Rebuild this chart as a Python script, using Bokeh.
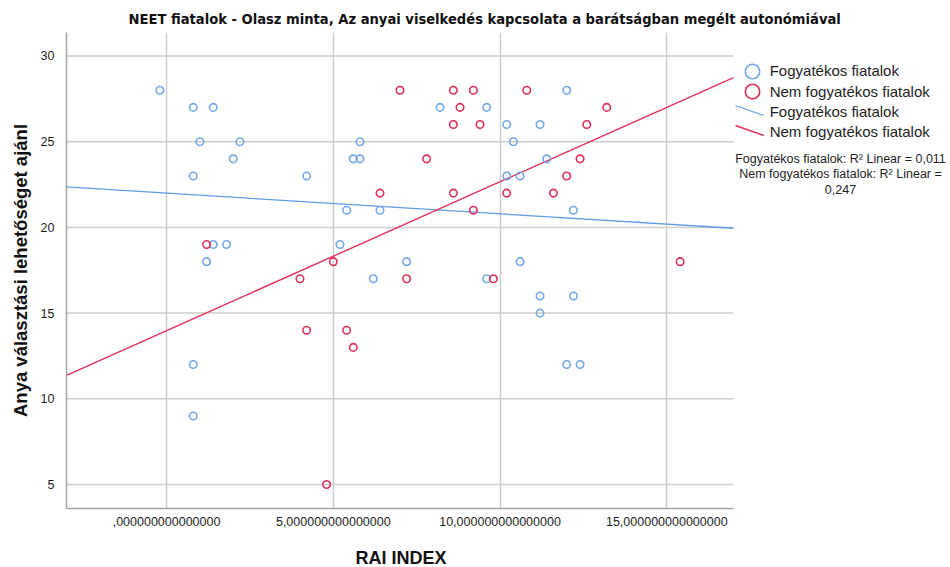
from bokeh.plotting import figure
from bokeh.models import Range1d, FixedTicker, Label, Legend, LegendItem, Arrow, Title
from bokeh.embed import file_html
from bokeh.resources import INLINE

# ---------------- data ----------------
title_text = "NEET fiatalok - Olasz minta, Az anyai viselkedés kapcsolata a barátságban megélt autonómiával"
x_title = "RAI INDEX"
y_title = "Anya választási lehetőséget ajánl"
series_names = ["Fogyatékos fiatalok", "Nem fogyatékos fiatalok"]
r2_lines = ["Fogyatékos fiatalok: R² Linear = 0,011",
            "Nem fogyatékos fiatalok: R² Linear =",
            "0,247"]

x_ticks = [0, 5, 10, 15]
x_tick_labels = [",000000000000000", "5,000000000000000",
                 "10,000000000000000", "15,000000000000000"]
y_ticks = [5, 10, 15, 20, 25, 30]

# Fogyatékos fiatalok
dis_x = [-0.2, 0.8, 1.4, 1.0, 2.2, 2.0, 0.8, 4.2, 5.8, 5.6, 5.8, 5.4, 6.4,
         1.4, 1.8, 1.2, 5.2, 7.2, 6.2, 0.8, 0.8, 12.0, 8.2, 9.6, 10.2, 11.2,
         10.4, 11.4, 10.2, 10.6, 12.2, 10.6, 9.6, 11.2, 12.2, 11.2, 12.0, 12.4]
dis_y = [28, 27, 27, 25, 25, 24, 23, 23, 25, 24, 24, 21, 21,
         19, 19, 18, 19, 18, 17, 12, 9, 28, 27, 27, 26, 26,
         25, 24, 23, 23, 21, 18, 17, 16, 16, 15, 12, 12]

# Nem fogyatékos fiatalok
non_x = [7.0, 6.4, 1.2, 5.0, 4.0, 7.2, 4.2, 5.4, 5.6, 4.8, 8.6, 9.2, 10.8,
         8.8, 13.2, 8.6, 9.4, 12.6, 7.8, 12.4, 12.0, 8.6, 10.2, 11.6, 9.2,
         9.8, 15.4]
non_y = [28, 22, 19, 18, 17, 17, 14, 14, 13, 5, 28, 28, 28,
         27, 27, 26, 26, 26, 24, 24, 23, 22, 22, 22, 21,
         17, 18]

# axis extent and fitted lines (read at the axis ends)
x_lo, x_hi = -3, 17
y_lo, y_hi = 3.6, 31.37
fit_x = [-3, 17]
dis_fit_y = [22.36, 19.95]
non_fit_y = [11.37, 28.74]

# ---------------- layout / styling ----------------
W, H = 950, 567
LEFT, TOP, BOTTOM = 66, 32, 59
AXIS_RIGHT_PX = 733          # where x = x_hi lands on the canvas
FRAME_W = W - LEFT
x_end = x_lo + (x_hi - x_lo) * FRAME_W / (AXIS_RIGHT_PX - LEFT)
FB = H - BOTTOM              # frame bottom, canvas px

BLUE = "#73a8e8"
RED = "#dc2f58"
BLUE_LINE = "#5d9be6"
RED_LINE = "#e0305c"
FONT = "Liberation Sans"
TXT = "#1e1e1e"
GRID = "#cdcdcd"

p = figure(width=W, height=H,
           x_range=Range1d(x_lo, x_end), y_range=Range1d(y_lo, y_hi),
           output_backend="svg", toolbar_location=None,
           min_border_left=LEFT, min_border_right=0,
           min_border_top=TOP, min_border_bottom=BOTTOM)
p.outline_line_color = None
p.background_fill_color = "white"
p.border_fill_color = "white"

# title
p.title.text = title_text
p.title.align = "left"
p.title.offset = 62
p.title.standoff = 12
p.title.text_font = "DejaVu Sans Condensed, Liberation Sans"
p.title.text_font_size = "14.6px"
p.title.text_font_style = "bold"
p.title.text_color = "#111111"

# axes
p.xaxis.ticker = FixedTicker(ticks=x_ticks)
p.xaxis.major_label_overrides = {t: l for t, l in zip(x_ticks, x_tick_labels)}
p.xaxis.bounds = (x_lo, x_hi)
p.yaxis.ticker = FixedTicker(ticks=y_ticks)
for ax in (p.xaxis[0], p.yaxis[0]):
    ax.axis_line_color = "#a3a3a3"
    ax.axis_line_width = 1.5
    ax.major_tick_line_color = None
    ax.minor_tick_line_color = None
    ax.major_label_text_font = FONT
    ax.major_label_text_font_size = "12.5px"
    ax.major_label_text_color = TXT
p.xaxis.major_label_standoff = 2
p.yaxis.major_label_standoff = 6

p.yaxis.axis_label = y_title
p.yaxis.axis_label_text_font = FONT
p.yaxis.axis_label_text_font_size = "18.5px"
p.yaxis.axis_label_text_font_style = "bold"
p.yaxis.axis_label_text_color = "#111111"
p.yaxis.axis_label_standoff = 7

# x-axis title below the tick labels, centred under the axis line
p.add_layout(Title(text=" ", text_font_size="1px", standoff=14), "below")
p.add_layout(Title(text=x_title, align="left", offset=355 - LEFT, standoff=0,
                   vertical_align="bottom",
                   text_font=FONT, text_font_size="18px", text_font_style="bold",
                   text_color="#111111"), "below")

# grid: vertical lines from the x ticks, horizontal lines limited to the axis extent
p.xgrid.ticker = FixedTicker(ticks=x_ticks)
p.xgrid.grid_line_color = GRID
p.xgrid.grid_line_width = 1.5
p.ygrid.visible = False
p.segment(x0=[x_lo] * len(y_ticks), x1=[x_hi] * len(y_ticks), y0=y_ticks, y1=y_ticks,
          line_color=GRID, line_width=1.5, level="underlay")

# fitted lines
p.line(fit_x, dis_fit_y, line_color=BLUE_LINE, line_width=1.3)
p.line(fit_x, non_fit_y, line_color=RED_LINE, line_width=1.4)

# points
r_dis = p.scatter(dis_x, dis_y, marker="circle", size=7.5, fill_color=None,
                  line_color=BLUE, line_width=1.6)
r_non = p.scatter(non_x, non_y, marker="circle", size=7.5, fill_color=None,
                  line_color=RED, line_width=1.6)

# invisible renderers for the line legend entries
r_dl = p.line(fit_x, dis_fit_y, line_alpha=0)
r_nl = p.line(fit_x, non_fit_y, line_alpha=0)

LEG = dict(orientation="vertical", padding=0, margin=0, label_standoff=0,
           label_text_font=FONT, label_text_font_size="15px", label_text_color=TXT,
           border_line_color=None, background_fill_alpha=0, spacing=0)

# marker keys: one legend each so the big circles can sit 20 px apart
leg_a = Legend(items=[LegendItem(label=series_names[0], renderers=[r_dis])],
               location=(733.7 - LEFT, FB - 88.7), glyph_width=36, glyph_height=36, **LEG)
leg_b = Legend(items=[LegendItem(label=series_names[1], renderers=[r_non])],
               location=(733.7 - LEFT, FB - 109.3), glyph_width=36, glyph_height=36, **LEG)
leg_c = Legend(items=[LegendItem(label=series_names[0], renderers=[r_dl]),
                      LegendItem(label=series_names[1], renderers=[r_nl])],
               location=(733.7 - LEFT, FB - 141.7), glyph_width=36, glyph_height=20,
               label_height=20, **LEG)
for lg in (leg_a, leg_b, leg_c):
    p.add_layout(lg)

# diagonal legend line keys
p.add_layout(Arrow(end=None, x_start=735 - LEFT, y_start=FB - 105,
                   x_end=763.3 - LEFT, y_end=FB - 115,
                   start_units="screen", end_units="screen",
                   line_color=BLUE_LINE, line_width=1.3))
p.add_layout(Arrow(end=None, x_start=735 - LEFT, y_start=FB - 125,
                   x_end=763.3 - LEFT, y_end=FB - 135,
                   start_units="screen", end_units="screen",
                   line_color=RED_LINE, line_width=1.4))

# R² notes
for txt, yy in zip(r2_lines, [158.5, 173.5, 188.5]):
    p.add_layout(Label(x=840 - LEFT, y=FB - yy, x_units="screen", y_units="screen",
                       text=txt, text_align="center", text_baseline="alphabetic",
                       text_font=FONT, text_font_size="12.5px",
                       text_color=TXT))

open("out.html", "w").write(file_html(p, INLINE))
